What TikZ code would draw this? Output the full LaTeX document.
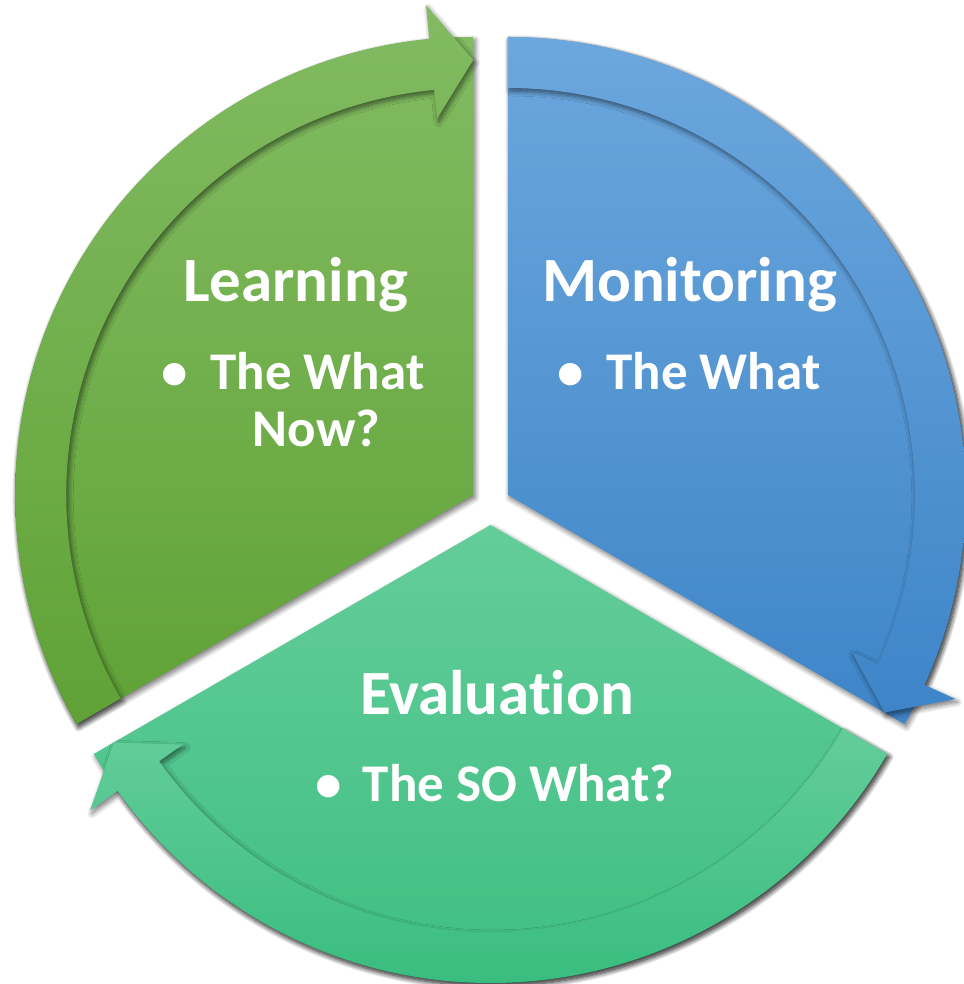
\documentclass[tikz,border=0pt]{standalone}
\usepackage{fontspec}
\setmainfont{Carlito}[Ligatures={NoCommon}]
\usetikzlibrary{shadows.blur}

% segment colours (top / bottom of each vertical gradient)
\definecolor{lrnTop}{RGB}{130,187,98}
\definecolor{lrnBot}{RGB}{96,162,54}
\definecolor{monTop}{RGB}{108,167,221}
\definecolor{monBot}{RGB}{62,133,200}
\definecolor{evaTop}{RGB}{100,205,154}
\definecolor{evaBot}{RGB}{57,189,127}

\begin{document}
\begin{tikzpicture}[x=1pt,y=1pt,
  title/.style={text=white,font=\fontsize{63}{70}\selectfont\bfseries,anchor=base,inner sep=0pt},
  item/.style={text=white,font=\fontsize{53}{59}\selectfont\bfseries,anchor=base,inner sep=0pt},
  soft/.style={blur shadow={shadow xshift=2pt,shadow yshift=-3pt,shadow blur steps=8,shadow opacity=55,shadow blur radius=5pt}},
  lrn/.style={soft,top color=lrnTop,bottom color=lrnBot},
  mon/.style={soft,top color=monTop,bottom color=monBot},
  eva/.style={soft,top color=evaTop,bottom color=evaBot},
]
\useasboundingbox (0,0) rectangle (963,984);
% radii: sector / band outer, band inner, arrow-head inner, head outer, head tip
\def\Ro{458}\def\Ri{407}\def\Hi{378}\def\Ho{492}\def\Hm{435}

% ---- Learning (upper left), arrow running up to the top
\begin{scope}[shift={(473.2,489)}]
  \path[lrn] (0,0) -- (90:\Ro pt) arc[start angle=90,end angle=210,radius=\Ro pt] -- cycle;
  \path[lrn] (210:\Ro pt) arc[start angle=210,end angle=95.5,radius=\Ro pt]
     -- (95.5:\Ho pt) -- (90:\Hm pt) -- (95.5:\Hi pt) -- (95.5:\Ri pt)
     arc[start angle=95.5,end angle=210,radius=\Ri pt] -- cycle;
\end{scope}

% ---- Monitoring (upper right), arrow running down to the right
\begin{scope}[shift={(507.8,489)}]
  \path[mon] (0,0) -- (90:\Ro pt) arc[start angle=90,end angle=-30,radius=\Ro pt] -- cycle;
  \path[mon] (90:\Ro pt) arc[start angle=90,end angle=-24.5,radius=\Ro pt]
     -- (-24.5:\Ho pt) -- (-30:\Hm pt) -- (-24.5:\Hi pt) -- (-24.5:\Ri pt)
     arc[start angle=-24.5,end angle=90,radius=\Ri pt] -- cycle;
\end{scope}

% ---- Evaluation (bottom), arrow running round to the left
\begin{scope}[shift={(490.5,459)}]
  \path[eva] (0,0) -- (210:\Ro pt) arc[start angle=210,end angle=330,radius=\Ro pt] -- cycle;
  \path[eva] (330:\Ro pt) arc[start angle=330,end angle=215.5,radius=\Ro pt]
     -- (215.5:\Ho pt) -- (210:\Hm pt) -- (215.5:\Hi pt) -- (215.5:\Ri pt)
     arc[start angle=215.5,end angle=330,radius=\Ri pt] -- cycle;
\end{scope}

% ---- labels
\node[title] (learnTitle) at (295.5,682) {Learning};
\node[item]  (learnDot)   at (175,594) {•};
\node[item]  (learnItem)  at (317.5,594) {The What};
\node[item]  (learnItem2) at (316.5,537) {Now?};

\node[title] (monTitle) at (689.5,682) {Monitoring};
\node[item]  (monDot)   at (571,594) {•};
\node[item]  (monItem)  at (713.5,594) {The What};

\node[title] (evaTitle) at (497,269) {Evaluation};
\node[item]  (evaDot)   at (328.5,182) {•};
\node[item]  (evaItem)  at (518.5,182) {The SO What?};
\end{tikzpicture}
\end{document}
